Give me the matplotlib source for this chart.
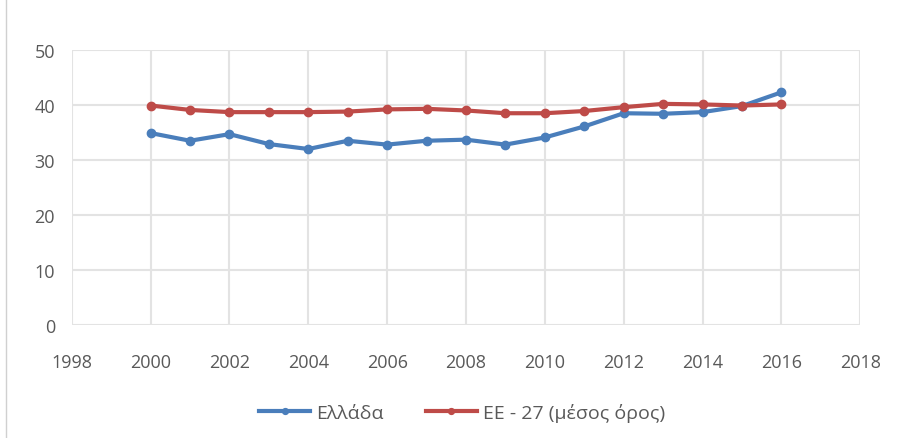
import matplotlib.pyplot as plt
from matplotlib.lines import Line2D

years = list(range(2000, 2017))
greece = [34.9, 33.5, 34.7, 32.9, 32.0, 33.5, 32.8, 33.5, 33.7, 32.8, 34.1, 36.1, 38.5, 38.4, 38.7, 39.8, 42.3]
eu27 = [39.9, 39.1, 38.7, 38.7, 38.7, 38.8, 39.2, 39.3, 39.0, 38.5, 38.5, 38.9, 39.6, 40.2, 40.1, 39.9, 40.1]
x_ticks = list(range(1998, 2019, 2))
y_ticks = [0, 10, 20, 30, 40, 50]

plt.rcParams["font.family"] = ["Open Sans", "DejaVu Sans"]

fig = plt.figure(figsize=(8.97, 4.39), dpi=100)
ax = fig.add_axes([0.080, 0.257, 0.879, 0.627])

ax.plot(years, greece, color="#4a7ebb", linewidth=3, marker="o", markersize=6, label="Ελλάδα", zorder=3)
ax.plot(years, eu27, color="#be4b48", linewidth=3, marker="o", markersize=6, label="ΕΕ - 27 (μέσος όρος)", zorder=3)

ax.set_xlim(1998, 2018)
ax.set_ylim(0, 50)
ax.set_xticks(x_ticks)
ax.set_yticks(y_ticks)
ax.grid(True, color="#e3e3e3", linewidth=1.5, zorder=1)
for s in ax.spines.values():
    s.set_visible(False)
ax.tick_params(length=0, labelsize=13, colors="#595959")
ax.tick_params(axis="x", pad=20)
ax.tick_params(axis="y", pad=12)

ax.legend(loc="upper center", bbox_to_anchor=(0.495, -0.22), ncol=2, frameon=False,
          fontsize=14, labelcolor="#595959", handlelength=2.6, handletextpad=0.3,
          columnspacing=2.2, markerscale=0.7)

fig.add_artist(Line2D([0.007, 0.007], [0.0, 1.0], color="#d0d0d0", linewidth=1))

plt.savefig("out.png", dpi=100)
plt.close()
